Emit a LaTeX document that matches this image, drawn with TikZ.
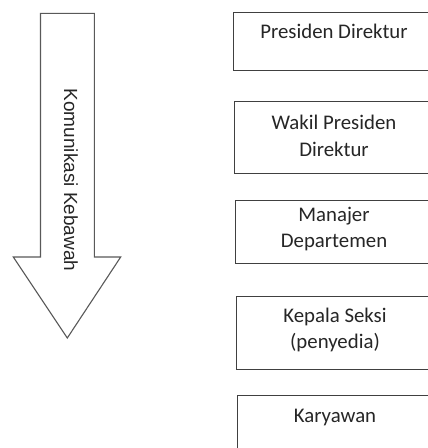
\documentclass[tikz,border=0pt]{standalone}
\usepackage{fontspec}
\setmainfont{Carlito}
\newfontfamily\arrowfont{Liberation Sans}
\begin{document}
\begin{tikzpicture}[x=1pt,y=-1pt,
  box/.style={draw=black!75,line width=1.1pt,rectangle,inner sep=0pt,anchor=north west,minimum width=215pt},
  lbl/.style={text=black!85,font=\fontsize{20.8}{26.5}\selectfont,align=center,inner sep=0pt},
  arrowline/.style={draw=black!65,line width=1.1pt,line join=miter,fill=white}]
\useasboundingbox (0,0) rectangle (428,448);
\clip (0,0) rectangle (428,448);
\fill[white] (0,0) rectangle (428,448);
% arrow
\draw[arrowline] (40.5,13.3) -- (94.3,13.3) -- (94.3,257) -- (120.7,257) -- (67.3,338) -- (13.3,257) -- (40.5,257) -- cycle;
\node[text=black!85,font=\arrowfont\fontsize{19}{23}\selectfont,rotate=-90,inner sep=0pt] (arr) at (71,180) {Komunikasi Kebawah};
% boxes
\node[box,minimum height=58pt] (b1) at (233,12) {};
\node[box,minimum height=72pt] (b2) at (234,101) {};
\node[box,minimum height=63pt] (b3) at (235,200) {};
\node[box,minimum height=73pt] (b4) at (236,296) {};
\node[box,minimum height=80pt] (b5) at (237,395) {};
% labels
\node[lbl] (t1) at (334,31) {Presiden Direktur};
\node[lbl] (t2) at (334,136) {Wakil Presiden\\Direktur};
\node[lbl] (t3) at (334,229) {Manajer\\Departemen};
\node[lbl] (t4) at (335,330) {Kepala Seksi\\(penyedia)};
\node[lbl] (t5) at (335,417) {Karyawan};
\end{tikzpicture}
\end{document}
